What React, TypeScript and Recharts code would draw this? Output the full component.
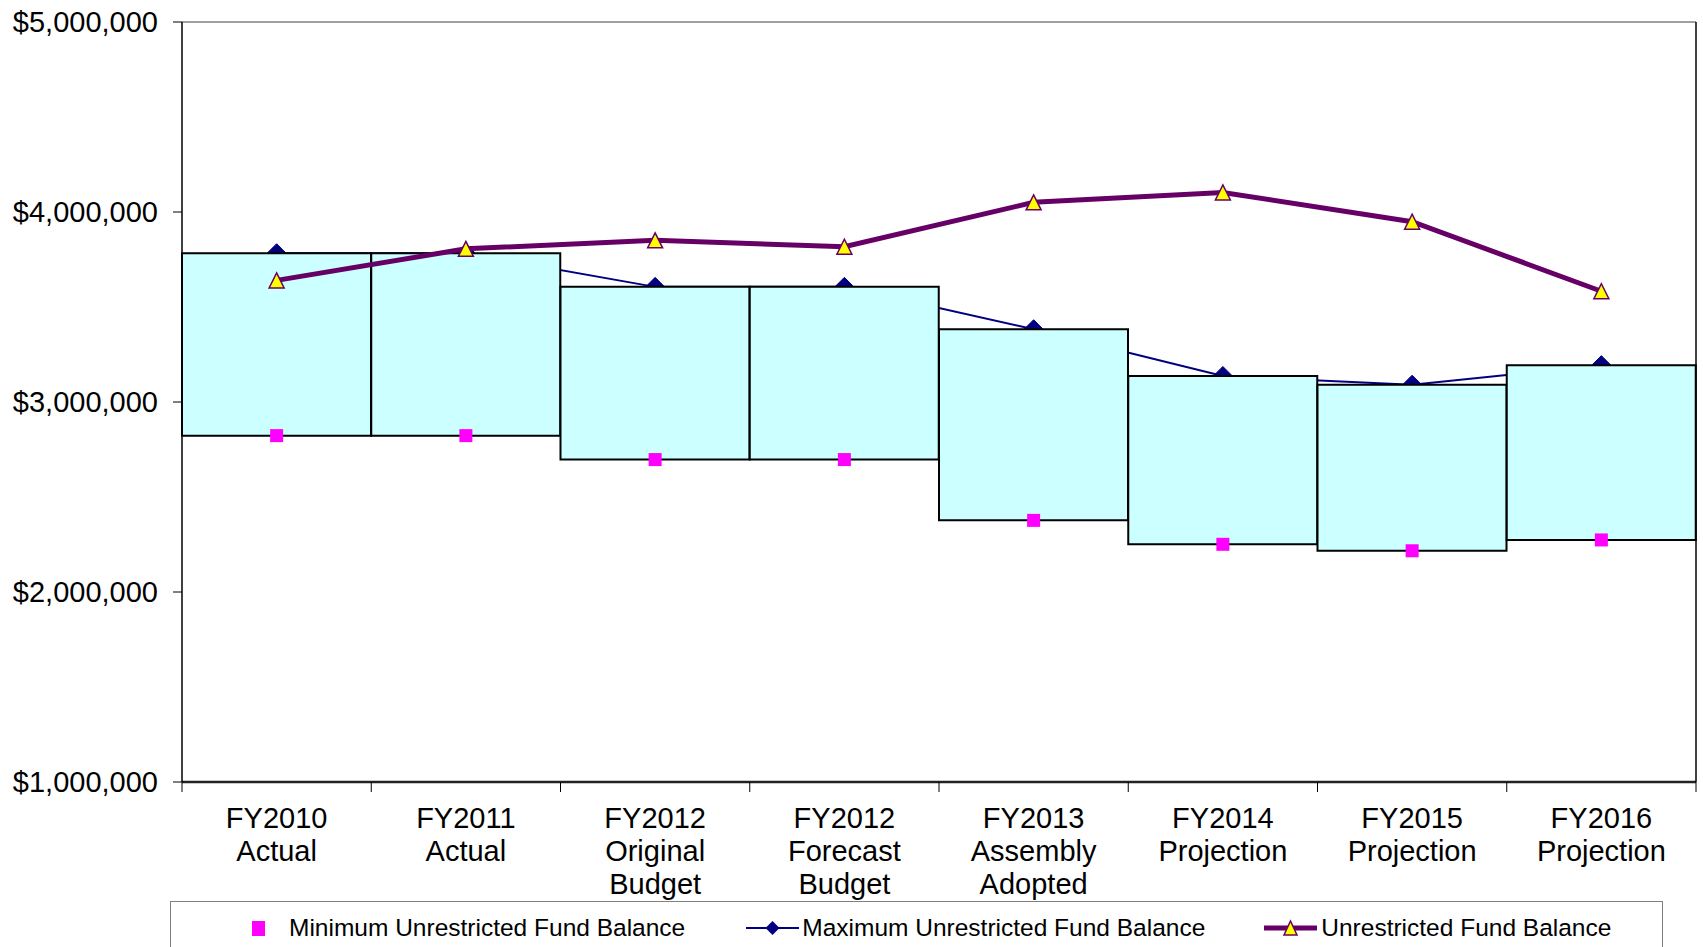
import React from 'react';
import { ComposedChart, Bar, Line, XAxis, YAxis, CartesianGrid, Legend } from 'recharts';

const categories = [
  'FY2010\nActual',
  'FY2011\nActual',
  'FY2012\nOriginal\nBudget',
  'FY2012\nForecast\nBudget',
  'FY2013\nAssembly\nAdopted',
  'FY2014\nProjection',
  'FY2015\nProjection',
  'FY2016\nProjection',
];
const minBalance = [2823000, 2823000, 2697000, 2697000, 2377000, 2251000, 2217000, 2274000];
const maxBalance = [3783000, 3783000, 3606000, 3606000, 3383000, 3137000, 3091000, 3194000];
const fundBalance = [3640000, 3806000, 3851000, 3817000, 4051000, 4103000, 3949000, 3583000];
const yTicks = [1000000, 2000000, 3000000, 4000000, 5000000];

const seriesNames = {
  min: 'Minimum Unrestricted Fund Balance',
  max: 'Maximum Unrestricted Fund Balance',
  fund: 'Unrestricted Fund Balance',
};

const data = categories.map((name, i) => ({
  name,
  min: minBalance[i],
  max: maxBalance[i],
  range: [minBalance[i], maxBalance[i]],
  fund: fundBalance[i],
}));

const W = 1703;
const H = 947;
const FONT = '"Liberation Sans", Arial, Helvetica, sans-serif';
const NAVY = '#000080';
const PURPLE = '#660066';
const PINK = '#FF00FF';
const YELLOW = '#FFFF00';
const LEGEND_H = 60;
const XAXIS_H = 105;

const money = (v: number) => '$' + v.toLocaleString('en-US');

function CategoryTick(props: any) {
  const { x, y, payload, index, visibleTicksCount, width } = props;
  const half = payload.offset ?? width / visibleTicksCount / 2;
  const lines = String(payload.value).split('\n');
  return (
    <g>
      <line x1={x - half} x2={x - half} y1={y} y2={y + 10} stroke="#000" strokeWidth={1} />
      {index === visibleTicksCount - 1 && (
        <line x1={x + half} x2={x + half} y1={y} y2={y + 10} stroke="#000" strokeWidth={1} />
      )}
      {lines.map((ln, i) => (
        <text
          key={i}
          x={x}
          y={y + 36 + i * 33}
          textAnchor="middle"
          dominantBaseline="central"
          fontSize={29}
          fontFamily={FONT}
          fill="#000"
        >
          {ln}
        </text>
      ))}
    </g>
  );
}

const Diamond = (props: any) => {
  const { cx, cy, index } = props;
  if (cx == null || cy == null) return <g key={index} />;
  const r = 9.5;
  return (
    <polygon
      key={index}
      points={`${cx},${cy - r} ${cx + r},${cy} ${cx},${cy + r} ${cx - r},${cy}`}
      fill={NAVY}
      stroke={NAVY}
    />
  );
};

const Square = (props: any) => {
  const { cx, cy, index } = props;
  if (cx == null || cy == null) return <g key={index} />;
  const s = 13;
  return <rect key={index} x={cx - s / 2} y={cy - s / 2} width={s} height={s} fill={PINK} />;
};

const Triangle = (props: any) => {
  const { cx, cy, index } = props;
  if (cx == null || cy == null) return <g key={index} />;
  const w = 7.5, h = 7.5;
  return (
    <polygon
      key={index}
      points={`${cx},${cy - h} ${cx + w},${cy + h} ${cx - w},${cy + h}`}
      fill={YELLOW}
      stroke={PURPLE}
      strokeWidth={1.5}
    />
  );
};

function LegendBox() {
  const text = { fontSize: 24.5, fontFamily: FONT, color: '#000', whiteSpace: 'nowrap' as const };
  return (
    <div
      style={{
        boxSizing: 'border-box',
        width: '100%',
        height: '100%',
        border: '1.5px solid #808080',
        display: 'flex',
        alignItems: 'flex-start',
        paddingLeft: 81,
        paddingTop: 12,
      }}
    >
      <div style={{ display: 'flex', alignItems: 'center' }}>
        <svg width={13} height={15} style={{ marginRight: 24 }}>
          <rect x={0} y={0} width={13} height={15} fill={PINK} />
        </svg>
        <span style={text}>{seriesNames.min}</span>
      </div>
      <div style={{ display: 'flex', alignItems: 'center', marginLeft: 61 }}>
        <svg width={53} height={18} style={{ marginRight: 3 }}>
          <line x1={0} x2={53} y1={9} y2={9} stroke={NAVY} strokeWidth={2} />
          <polygon points="26.5,2 33.5,9 26.5,16 19.5,9" fill={NAVY} />
        </svg>
        <span style={text}>{seriesNames.max}</span>
      </div>
      <div style={{ display: 'flex', alignItems: 'center', marginLeft: 59 }}>
        <svg width={53} height={18} style={{ marginRight: 4 }}>
          <line x1={0} x2={53} y1={9} y2={9} stroke={PURPLE} strokeWidth={5} />
          <polygon points="26.5,2 33,16 20,16" fill={YELLOW} stroke={PURPLE} strokeWidth={1.5} />
        </svg>
        <span style={text}>{seriesNames.fund}</span>
      </div>
    </div>
  );
}

// shared y axis setup so both layers use identical scales
const yProps = {
  yAxisId: 'left',
  width: 182,
  domain: [1000000, 5000000] as [number, number],
  ticks: yTicks,
  allowDataOverflow: true,
};

export default function App() {
  return (
    <div style={{ position: 'absolute', left: 0, top: 0, width: W, height: H, overflow: 'hidden', background: '#fff' }}>
      {/* back layer: gridlines and the maximum line, which sits behind the boxes */}
      <div style={{ position: 'absolute', left: 0, top: 0 }}>
        <ComposedChart
          width={W}
          height={H}
          data={data}
          margin={{ top: 22, right: 0, bottom: 0, left: 0 }}
          barCategoryGap={0}
          barGap={0}
        >
          <CartesianGrid yAxisId="left" vertical={false} stroke="#808080" strokeWidth={1.5} />
          <XAxis dataKey="name" yAxisId="left" height={XAXIS_H + LEGEND_H} tick={false} tickLine={false} axisLine={false} />
          <YAxis {...yProps} tick={false} tickLine={false} axisLine={false} />
          <YAxis yAxisId="right" orientation="right" width={7} tick={false} tickLine={false} axisLine={false} />
          {/* invisible bars keep the same band layout as the front layer */}
          <Bar yAxisId="left" dataKey="range" fill="none" stroke="none" isAnimationActive={false} />
          <Line
            yAxisId="left"
            dataKey="max"
            name={seriesNames.max}
            stroke={NAVY}
            strokeWidth={2}
            dot={Diamond}
            activeDot={false}
            isAnimationActive={false}
          />
        </ComposedChart>
      </div>
      {/* front layer: boxes, markers, fund balance line, axes, legend */}
      <div style={{ position: 'absolute', left: 0, top: 0 }}>
        <ComposedChart
          width={W}
          height={H}
          data={data}
          margin={{ top: 22, right: 0, bottom: 0, left: 0 }}
          barCategoryGap={0}
          barGap={0}
        >
          <XAxis
            dataKey="name"
            yAxisId="left"
            height={XAXIS_H}
            interval={0}
            tickLine={false}
            tickSize={0}
            tickMargin={0}
            axisLine={{ stroke: '#222', strokeWidth: 2.5 }}
            tick={<CategoryTick />}
          />
          <YAxis
            {...yProps}
            tickFormatter={money}
            tickSize={9}
            tickMargin={15}
            tickLine={{ stroke: '#000' }}
            axisLine={{ stroke: '#000', strokeWidth: 1.5 }}
            tick={{ fontSize: 29, fontFamily: FONT, fill: '#000' }}
          />
          <YAxis
            yAxisId="right"
            orientation="right"
            width={7}
            tick={false}
            tickLine={false}
            axisLine={{ stroke: '#000', strokeWidth: 1.5 }}
          />
          <Bar
            yAxisId="left"
            dataKey="range"
            fill="#CCFFFF"
            stroke="#000"
            strokeWidth={2}
            isAnimationActive={false}
          />
          <Line
            yAxisId="left"
            dataKey="min"
            name={seriesNames.min}
            stroke="none"
            dot={Square}
            activeDot={false}
            isAnimationActive={false}
          />
          <Line
            yAxisId="left"
            dataKey="fund"
            name={seriesNames.fund}
            stroke={PURPLE}
            strokeWidth={5}
            dot={Triangle}
            activeDot={false}
            isAnimationActive={false}
          />
          <Legend
            verticalAlign="bottom"
            height={LEGEND_H}
            wrapperStyle={{ left: 170, top: 901, width: 1493, height: LEGEND_H }}
            content={() => <LegendBox />}
          />
        </ComposedChart>
      </div>
    </div>
  );
}
